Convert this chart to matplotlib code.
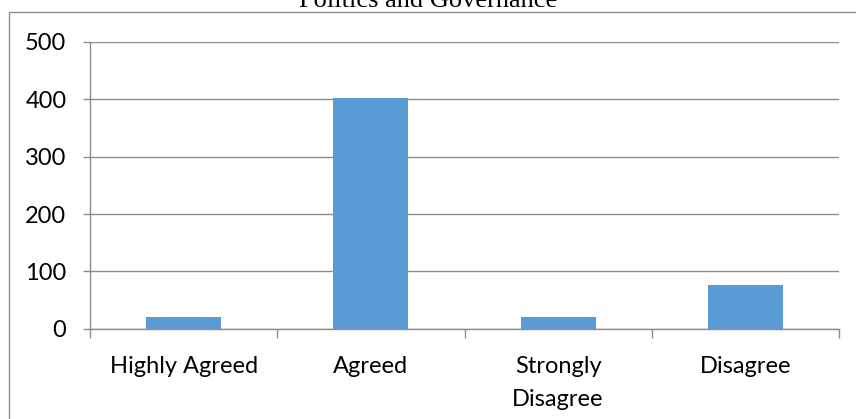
import matplotlib
matplotlib.use("Agg")
import matplotlib.pyplot as plt
from matplotlib.patches import Rectangle
import numpy as np

categories = ["Highly Agreed", "Agreed", "Strongly\nDisagree", "Disagree"]
values = [20, 402, 20, 76]
yticks = [0, 100, 200, 300, 400, 500]
title = "Politics and Governance"

W, H = 856, 419
fig = plt.figure(figsize=(W / 100, H / 100), dpi=100)

# outer chart border (cropped at right/bottom)
fig.patches.append(Rectangle((9 / W, -0.05), 1.1, (H - 12.5) / H + 0.05,
                             transform=fig.transFigure, fill=False,
                             edgecolor="#8c8c8c", linewidth=1.0))

ax = fig.add_axes([90 / W, 1 - 328.7 / H, (839 - 90) / W, (328.7 - 42) / H])
x = np.arange(len(categories))
ax.bar(x, values, width=0.4, color="#5B9BD5", zorder=3)
ax.set_xlim(-0.5, len(categories) - 0.5)
ax.set_ylim(0, 500)
ax.set_yticks(yticks)
ax.yaxis.grid(True, color="#8c8c8c", linewidth=1.0, zorder=0)
for s in ["top", "right"]:
    ax.spines[s].set_visible(False)
for s in ["left", "bottom"]:
    ax.spines[s].set_color("#8c8c8c")
    ax.spines[s].set_linewidth(1.0)
ax.spines["bottom"].set_zorder(4)

font = "Lato"
ax.set_xticks(x)
ax.set_xticklabels(categories, fontfamily=font, fontsize=17, linespacing=1.7)
ax.set_xticks(np.arange(-0.5, len(categories)), minor=True)
ax.tick_params(axis="x", which="major", length=0, pad=20)
ax.tick_params(axis="x", which="minor", length=6.3, color="#8c8c8c", width=1.0)
ax.tick_params(axis="y", length=5, color="#8c8c8c", width=1.0, pad=12,
               labelsize=17)
for lbl in ax.get_yticklabels():
    lbl.set_fontfamily(font)

fig.text(0.5, 1 - 7 / H, title, ha="center", va="baseline",
         fontfamily="Liberation Serif", fontsize=19, color="black")

fig.savefig("out.png", dpi=100)
